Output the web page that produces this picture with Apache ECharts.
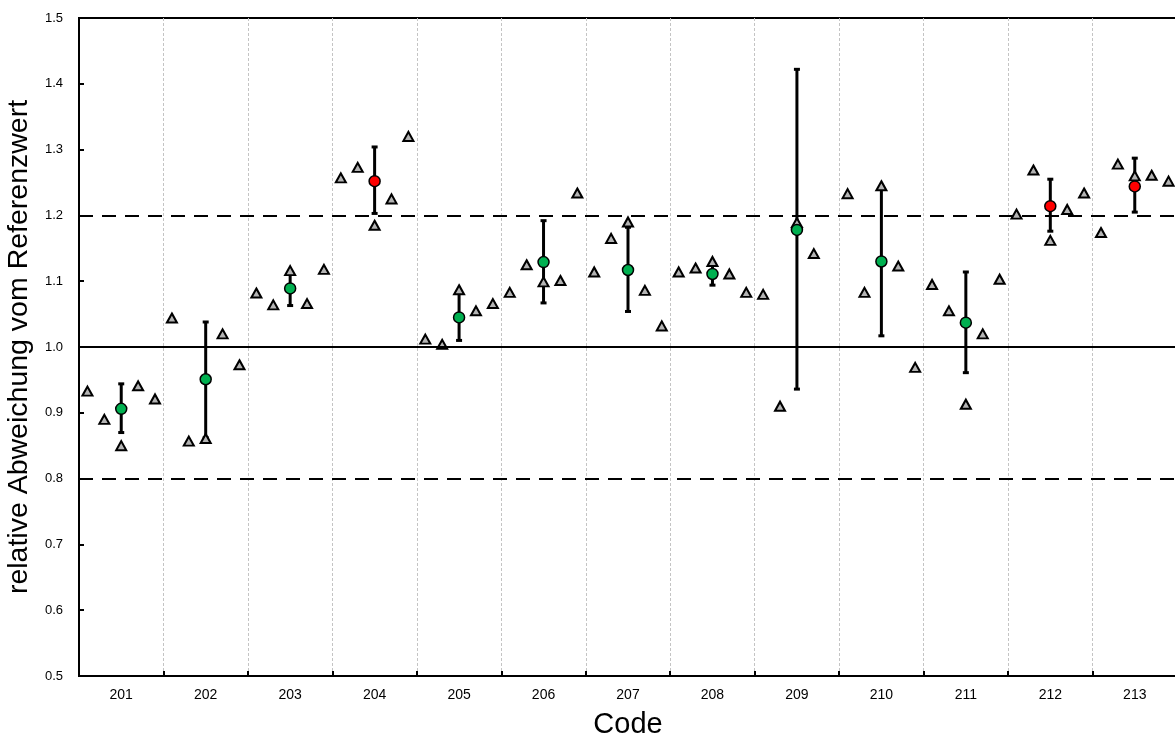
<!DOCTYPE html>
<html><head><meta charset="utf-8">
<script src="https://cdn.jsdelivr.net/npm/echarts@6/dist/echarts.min.js"></script>
<style>html,body{margin:0;padding:0;background:#fff}#c{width:1175px;height:738px}</style>
</head><body><div id="c"></div>
<script>
// ---- data ----
const codes = ['201','202','203','204','205','206','207','208','209','210','211','212','213'];
const labValues = [
  [0.933, 0.890, 0.850, 0.941, 0.921],
  [1.044, 0.857, 0.861, 1.020, 0.973],
  [1.082, 1.064, 1.116, 1.066, 1.118],
  [1.257, 1.273, 1.185, 1.225, 1.320],
  [1.012, 1.004, 1.087, 1.055, 1.066],
  [1.083, 1.125, 1.099, 1.101, 1.234],
  [1.114, 1.165, 1.190, 1.086, 1.032],
  [1.114, 1.120, 1.130, 1.111, 1.083],
  [1.080, 0.910, 1.189, 1.142, null],
  [1.233, 1.083, 1.245, 1.123, 0.969],
  [1.095, 1.055, 0.913, 1.020, 1.103],
  [1.202, 1.269, 1.162, 1.209, 1.234],
  [1.174, 1.278, 1.260, 1.261, 1.252]
];
const means   = [0.906, 0.951, 1.089, 1.252, 1.045, 1.129, 1.117, 1.111, 1.178, 1.130, 1.037, 1.214, 1.244];
const errLow  = [0.870, 0.862, 1.063, 1.203, 1.010, 1.067, 1.054, 1.094, 0.936, 1.017, 0.961, 1.176, 1.205];
const errHigh = [0.944, 1.038, 1.113, 1.304, 1.082, 1.192, 1.182, 1.127, 1.422, 1.240, 1.114, 1.255, 1.287];
const refLine = 1.0;
const limitLow = 0.8;
const limitHigh = 1.2;
const yMin = 0.5, yMax = 1.5, yStep = 0.1;

// ---- build series data ----
const slots = 5;
const triData = [];
labValues.forEach((arr, i) => {
  arr.forEach((v, j) => {
    if (v !== null) triData.push([i + (j + 0.5) / slots, v]);
  });
});
const meanData = means.map((m, i) => [i + 0.5, m]);
const errData = means.map((m, i) => [i + 0.5, errLow[i], errHigh[i]]);

const FONT = 'Liberation Sans, Arial, sans-serif';
const chart = echarts.init(document.getElementById('c'), null, {renderer: 'canvas'});
chart.setOption({
  animation: false,
  backgroundColor: '#fff',
  grid: {left: 79, top: 18, right: -2, bottom: 62, show: true, borderColor: '#000', borderWidth: 2,
         backgroundColor: 'transparent', containLabel: false, outerBoundsMode: 'none'},
  xAxis: [{
    type: 'category', data: codes, boundaryGap: true, gridIndex: 0,
    axisLine: {lineStyle: {color: '#000', width: 2}},
    axisTick: {show: true, inside: true, length: 5, lineStyle: {color: '#000', width: 2}},
    axisLabel: {fontSize: 14, color: '#000', fontFamily: FONT, margin: 12},
    splitLine: {show: true, lineStyle: {color: '#c4c4c4', type: [3, 2], width: 1}},
    name: 'Code', nameLocation: 'middle', nameGap: 34,
    nameTextStyle: {fontSize: 29, color: '#000', fontFamily: FONT}
  }, {
    type: 'value', min: 0, max: codes.length, show: false, gridIndex: 0
  }],
  yAxis: {
    type: 'value', min: yMin, max: yMax, interval: yStep,
    axisLine: {show: true, lineStyle: {color: '#000', width: 2}},
    axisTick: {show: true, inside: true, length: 5, lineStyle: {color: '#000', width: 2}},
    axisLabel: {fontSize: 13, color: '#000', fontFamily: FONT, margin: 16, formatter: v => v.toFixed(1)},
    splitLine: {show: false},
    name: 'relative Abweichung vom Referenzwert', nameLocation: 'middle', nameGap: 39,
    nameTextStyle: {fontSize: 28.5, color: '#000', fontFamily: FONT}
  },
  series: [{
    type: 'custom', xAxisIndex: 1, z: 2,
    data: errData,
    renderItem: (params, api) => {
      const x = api.value(0);
      const lo = api.coord([x, api.value(1)]);
      const hi = api.coord([x, api.value(2)]);
      const st = {stroke: '#000', lineWidth: 3};
      return {type: 'group', children: [
        {type: 'line', shape: {x1: lo[0], y1: lo[1], x2: hi[0], y2: hi[1]}, style: st},
        {type: 'line', shape: {x1: lo[0] - 3, y1: lo[1], x2: lo[0] + 3, y2: lo[1]}, style: st},
        {type: 'line', shape: {x1: hi[0] - 3, y1: hi[1], x2: hi[0] + 3, y2: hi[1]}, style: st}
      ]};
    },
    markLine: {
      silent: true, symbol: 'none', label: {show: false},
      data: [
        {yAxis: refLine, lineStyle: {color: '#000', width: 2, type: 'solid'}},
        {yAxis: limitLow, lineStyle: {color: '#000', width: 2, type: [14, 9]}},
        {yAxis: limitHigh, lineStyle: {color: '#000', width: 2, type: [14, 9]}}
      ]
    }
  }, {
    type: 'scatter', xAxisIndex: 1, z: 3,
    data: triData, symbol: 'triangle', symbolSize: [10, 9],
    itemStyle: {color: '#b4b4b4', borderColor: '#000', borderWidth: 2, opacity: 1}
  }, {
    type: 'scatter', xAxisIndex: 1, z: 4,
    data: meanData, symbol: 'circle', symbolSize: 11,
    itemStyle: {
      color: p => (p.value[1] > limitHigh || p.value[1] < limitLow) ? '#ff0000' : '#00b050',
      borderColor: '#000', borderWidth: 1.5, opacity: 1
    }
  }]
});
</script>
</body></html>
